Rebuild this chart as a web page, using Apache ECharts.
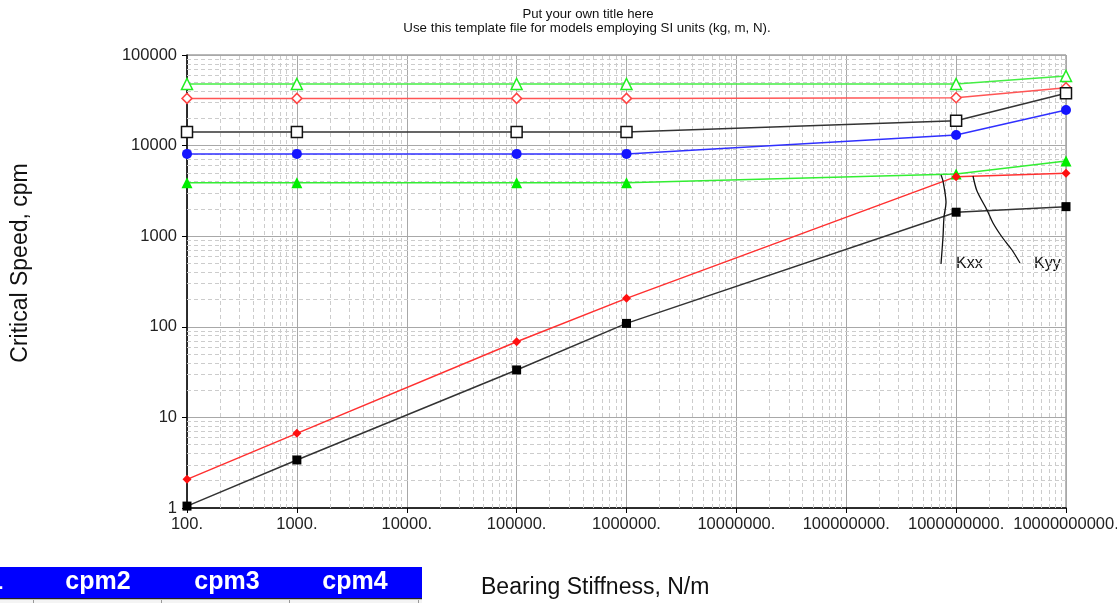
<!DOCTYPE html>
<html>
<head>
<meta charset="utf-8">
<script src="https://cdn.jsdelivr.net/npm/echarts@6/dist/echarts.min.js"></script>
<style>html,body{margin:0;padding:0;background:#fff;}#c{width:1117px;height:603px;}</style>
</head>
<body>
<div id="c"></div>
<script>
// ---- data ----
var stiffness = [100, 1000, 100000, 1000000, 1000000000, 10000000000];
var cpmOpenTri   = [47900, 47900, 47900, 47900, 47900, 58600];
var cpmOpenDia   = [33200, 33200, 33200, 33200, 33800, 43500];
var cpmOpenSq    = [14100, 14100, 14100, 14100, 18800, 37800];
var cpmBlue      = [8100, 8100, 8100, 8100, 13100, 24700];
var cpmGreenTri  = [3900, 3900, 3900, 3900, 4860, 6760];
var cpmRedDia    = [2.07, 6.67, 68.5, 206, 4540, 4950];
var cpmBlackSq   = [1.05, 3.39, 33.4, 109, 1840, 2120];
var xTicks = [100, 1000, 10000, 100000, 1000000, 10000000, 100000000, 1000000000, 10000000000];
var yTicks = [1, 10, 100, 1000, 10000, 100000];
var minorMult = [2, 3, 4, 5, 6, 7, 8, 9];

var FONT = 'Liberation Sans, Arial, sans-serif';

function pairs(ys) { return stiffness.map(function (x, i) { return [x, ys[i]]; }); }

var minorX = [], minorY = [];
for (var i = 0; i < xTicks.length - 1; i++) minorMult.forEach(function (m) { minorX.push({ xAxis: xTicks[i] * m }); });
for (var j = 0; j < yTicks.length - 1; j++) minorMult.forEach(function (m) { minorY.push({ yAxis: yTicks[j] * m }); });

function mkSeries(ys, color, lineColor, symbol, size, open) {
  return {
    type: 'line', data: pairs(ys), symbol: symbol, symbolSize: size, showSymbol: true,
    lineStyle: { color: lineColor, width: 1.5 },
    itemStyle: open ? { color: '#ffffff', borderColor: color, borderWidth: 1.5 } : { color: color, borderColor: color, borderWidth: 0 },
    emphasis: { disabled: true }, z: 5, animation: false
  };
}

var chart = echarts.init(document.getElementById('c'), null, { renderer: 'canvas' });
var option = {
  animation: false,
  backgroundColor: '#ffffff',
  grid: { left: 187, right: 51, top: 55, bottom: 95, containLabel: false, outerBoundsMode: 'none', show: true, borderColor: '#707070', borderWidth: 1, backgroundColor: 'transparent' },
  xAxis: {
    type: 'log', logBase: 10, min: 100, max: 10000000000, splitNumber: 8,
    axisLine: { show: true, onZero: false, lineStyle: { color: '#000', width: 1.5 } },
    axisTick: { show: true, inside: false, length: 5, lineStyle: { color: '#000' } },
    axisLabel: { color: '#222', fontFamily: FONT, fontSize: 16.5, margin: 8, hideOverlap: false, formatter: function (v) { return String(Math.round(v)) + '.'; } },
    splitLine: { show: true, lineStyle: { color: '#a8a8a8', width: 1 } }
  },
  yAxis: {
    type: 'log', logBase: 10, min: 1, max: 100000, splitNumber: 5,
    axisLine: { show: true, onZero: false, lineStyle: { color: '#000', width: 1.5 } },
    axisTick: { show: true, inside: false, length: 5, lineStyle: { color: '#000' } },
    axisLabel: { color: '#222', fontFamily: FONT, fontSize: 16.5, margin: 10, formatter: function (v) { return String(Math.round(v)); } },
    splitLine: { show: true, lineStyle: { color: '#a8a8a8', width: 1 } }
  },
  series: [
    {
      type: 'line', data: [], silent: true, animation: false,
      markLine: {
        silent: true, symbol: ['none', 'none'], label: { show: false }, animation: false,
        lineStyle: { color: '#cccccc', type: [4, 3], width: 1 },
        emphasis: { disabled: true },
        data: minorX.concat(minorY)
      }
    },
    mkSeries(cpmOpenTri, '#22ee22', '#44ee44', 'triangle', 11, true),
    mkSeries(cpmOpenDia, '#ff4444', '#ff5555', 'diamond', 10, true),
    mkSeries(cpmOpenSq, '#111111', '#333333', 'rect', 11, true),
    mkSeries(cpmBlue, '#1414ff', '#3030ff', 'circle', 10, false),
    mkSeries(cpmGreenTri, '#00ee00', '#33ee33', 'triangle', 11, false),
    mkSeries(cpmRedDia, '#ff1010', '#ff3030', 'diamond', 9, false),
    mkSeries(cpmBlackSq, '#000000', '#333333', 'rect', 9, false)
  ],
  graphic: [
    { type: 'text', silent: true, style: { text: 'Put your own title here', x: 588, y: 8, textAlign: 'center', fill: '#111', font: '13.2px ' + FONT } },
    { type: 'text', silent: true, style: { text: 'Use this template file for models employing SI units (kg, m, N).', x: 587, y: 21.5, textAlign: 'center', fill: '#111', font: '13.3px ' + FONT } },
    { type: 'text', silent: true, rotation: Math.PI / 2, x: 21, y: 263, style: { text: 'Critical Speed, cpm', textAlign: 'center', textVerticalAlign: 'middle', fill: '#111', font: '23px ' + FONT } },
    { type: 'text', silent: true, style: { text: 'Bearing Stiffness, N/m', x: 481, y: 576, fill: '#111', font: '23px ' + FONT } },
    { type: 'text', silent: true, style: { text: 'Kxx', x: 956, y: 256, fill: '#111', font: '16px ' + FONT } },
    { type: 'text', silent: true, style: { text: 'Kyy', x: 1034, y: 256, fill: '#111', font: '16px ' + FONT } },
    { type: 'polyline', silent: true, z: 10, shape: { points: [[941, 175], [943, 181], [946, 202], [944, 217], [943, 237], [941, 264]], smooth: 0.3 }, style: { stroke: '#111', lineWidth: 1.3, fill: null } },
    { type: 'polyline', silent: true, z: 10, shape: { points: [[973, 176], [977, 191], [987, 210], [993, 223], [1002, 237], [1012, 250], [1020, 263]], smooth: 0.3 }, style: { stroke: '#111', lineWidth: 1.3, fill: null } },
    { type: 'rect', silent: true, shape: { x: 0, y: 567, width: 422, height: 31 }, style: { fill: '#0000ff' } },
    { type: 'rect', silent: true, shape: { x: 0, y: 598, width: 422, height: 1.5 }, style: { fill: '#222' } },
    { type: 'rect', silent: true, shape: { x: 0, y: 599.5, width: 422, height: 3.5 }, style: { fill: '#f4f4f4' } },
    { type: 'rect', silent: true, shape: { x: 33, y: 600, width: 1, height: 3 }, style: { fill: '#999' } },
    { type: 'rect', silent: true, shape: { x: 161, y: 600, width: 1, height: 3 }, style: { fill: '#999' } },
    { type: 'rect', silent: true, shape: { x: 289, y: 600, width: 1, height: 3 }, style: { fill: '#999' } },
    { type: 'rect', silent: true, shape: { x: 418, y: 600, width: 1, height: 3 }, style: { fill: '#999' } },
    { type: 'text', silent: true, style: { text: 'cpm1', x: 3, y: 582, textAlign: 'right', textVerticalAlign: 'middle', fill: '#fff', font: 'bold 25px ' + FONT } },
    { type: 'text', silent: true, style: { text: 'cpm2', x: 98, y: 582, textAlign: 'center', textVerticalAlign: 'middle', fill: '#fff', font: 'bold 25px ' + FONT } },
    { type: 'text', silent: true, style: { text: 'cpm3', x: 227, y: 582, textAlign: 'center', textVerticalAlign: 'middle', fill: '#fff', font: 'bold 25px ' + FONT } },
    { type: 'text', silent: true, style: { text: 'cpm4', x: 355, y: 582, textAlign: 'center', textVerticalAlign: 'middle', fill: '#fff', font: 'bold 25px ' + FONT } }
  ]
};
chart.setOption(option);
</script>
</body>
</html>
